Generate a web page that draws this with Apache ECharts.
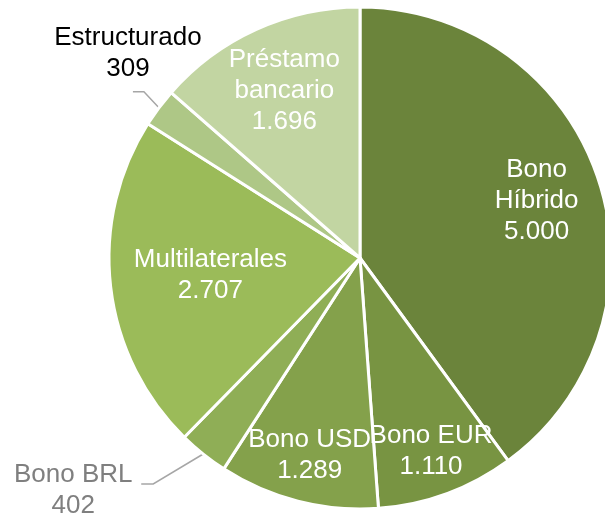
<!DOCTYPE html>
<html>
<head>
<meta charset="utf-8">
<script src="https://cdn.jsdelivr.net/npm/echarts@6/dist/echarts.min.js"></script>
<style>
  html, body { margin: 0; padding: 0; background: #ffffff; }
  #chart { width: 605px; height: 516px; }
</style>
</head>
<body>
<div id="chart"></div>
<script>
// Financing breakdown by instrument
const categories = ['Bono Híbrido', 'Bono EUR', 'Bono USD', 'Bono BRL', 'Multilaterales', 'Estructurado', 'Préstamo bancario'];
const values = [5000, 1110, 1289, 402, 2707, 309, 1696];
const colors = ['#6b843b', '#789442', '#84a14b', '#8fae56', '#9bbb59', '#aec786', '#c2d5a2'];

// Pie geometry
const CX = 360, CY = 258, R = 251;
const total = values.reduce((a, b) => a + b, 0);

function midAngle(i) {
  let s = 0;
  for (let k = 0; k < i; k++) s += values[k];
  return (s + values[i] / 2) / total * 2 * Math.PI;
}

function fmt(v) {
  return String(v).replace(/\B(?=(\d{3})+(?!\d))/g, '.');
}

// Names drawn on two lines inside their slice
const wrapped = { 0: true, 6: true };

// Inside labels: distance from centre as a fraction of the radius
const insideRadius = { 0: 0.74, 1: 0.82, 2: 0.81, 4: 0.60, 6: 0.73 };
// Outside labels: leader bend, horizontal run, text offset from the line end
const outsideLabel = {
  3: { bend: [-50, 30], run: -12, text: [-68, 6], color: '#7f7f7f' },
  5: { bend: [-15, -16], run: -11, text: [-5, -38], color: '#000000' }
};

const data = values.map((v, i) => {
  const out = outsideLabel[i];
  return {
    name: categories[i],
    value: v,
    itemStyle: { color: colors[i] },
    label: out
      ? { position: 'outside', color: out.color }
      : { position: 'inside', color: '#ffffff' },
    labelLine: { show: !!out, lineStyle: { color: '#a6a6a6', width: 1.5 } }
  };
});

const chart = echarts.init(document.getElementById('chart'), null, { renderer: 'canvas' });
chart.setOption({
  animation: false,
  backgroundColor: '#ffffff',
  series: [{
    type: 'pie',
    center: [CX, CY],
    radius: [0, R],
    startAngle: 90,
    clockwise: true,
    avoidLabelOverlap: false,
    silent: true,
    itemStyle: { borderColor: '#ffffff', borderWidth: 3 },
    label: {
      show: true,
      fontFamily: 'Liberation Sans, Arial, sans-serif',
      fontSize: 26,
      lineHeight: 31,
      align: 'center',
      formatter: p => {
        const name = wrapped[p.dataIndex] ? p.name.replace(' ', '\n') : p.name;
        return name + '\n' + fmt(p.value);
      }
    },
    labelLayout: p => {
      const i = p.dataIndex;
      const a = midAngle(i);
      if (insideRadius[i] != null) {
        const f = insideRadius[i] * R;
        return { x: CX + f * Math.sin(a), y: CY - f * Math.cos(a), align: 'center', verticalAlign: 'middle' };
      }
      const o = outsideLabel[i];
      const e = [CX + R * Math.sin(a), CY - R * Math.cos(a)];
      const b = [e[0] + o.bend[0], e[1] + o.bend[1]];
      const t = [b[0] + o.run, b[1]];
      return {
        x: t[0] + o.text[0], y: t[1] + o.text[1],
        align: 'center', verticalAlign: 'middle',
        labelLinePoints: [e, b, t]
      };
    },
    data: data
  }]
});
</script>
</body>
</html>
